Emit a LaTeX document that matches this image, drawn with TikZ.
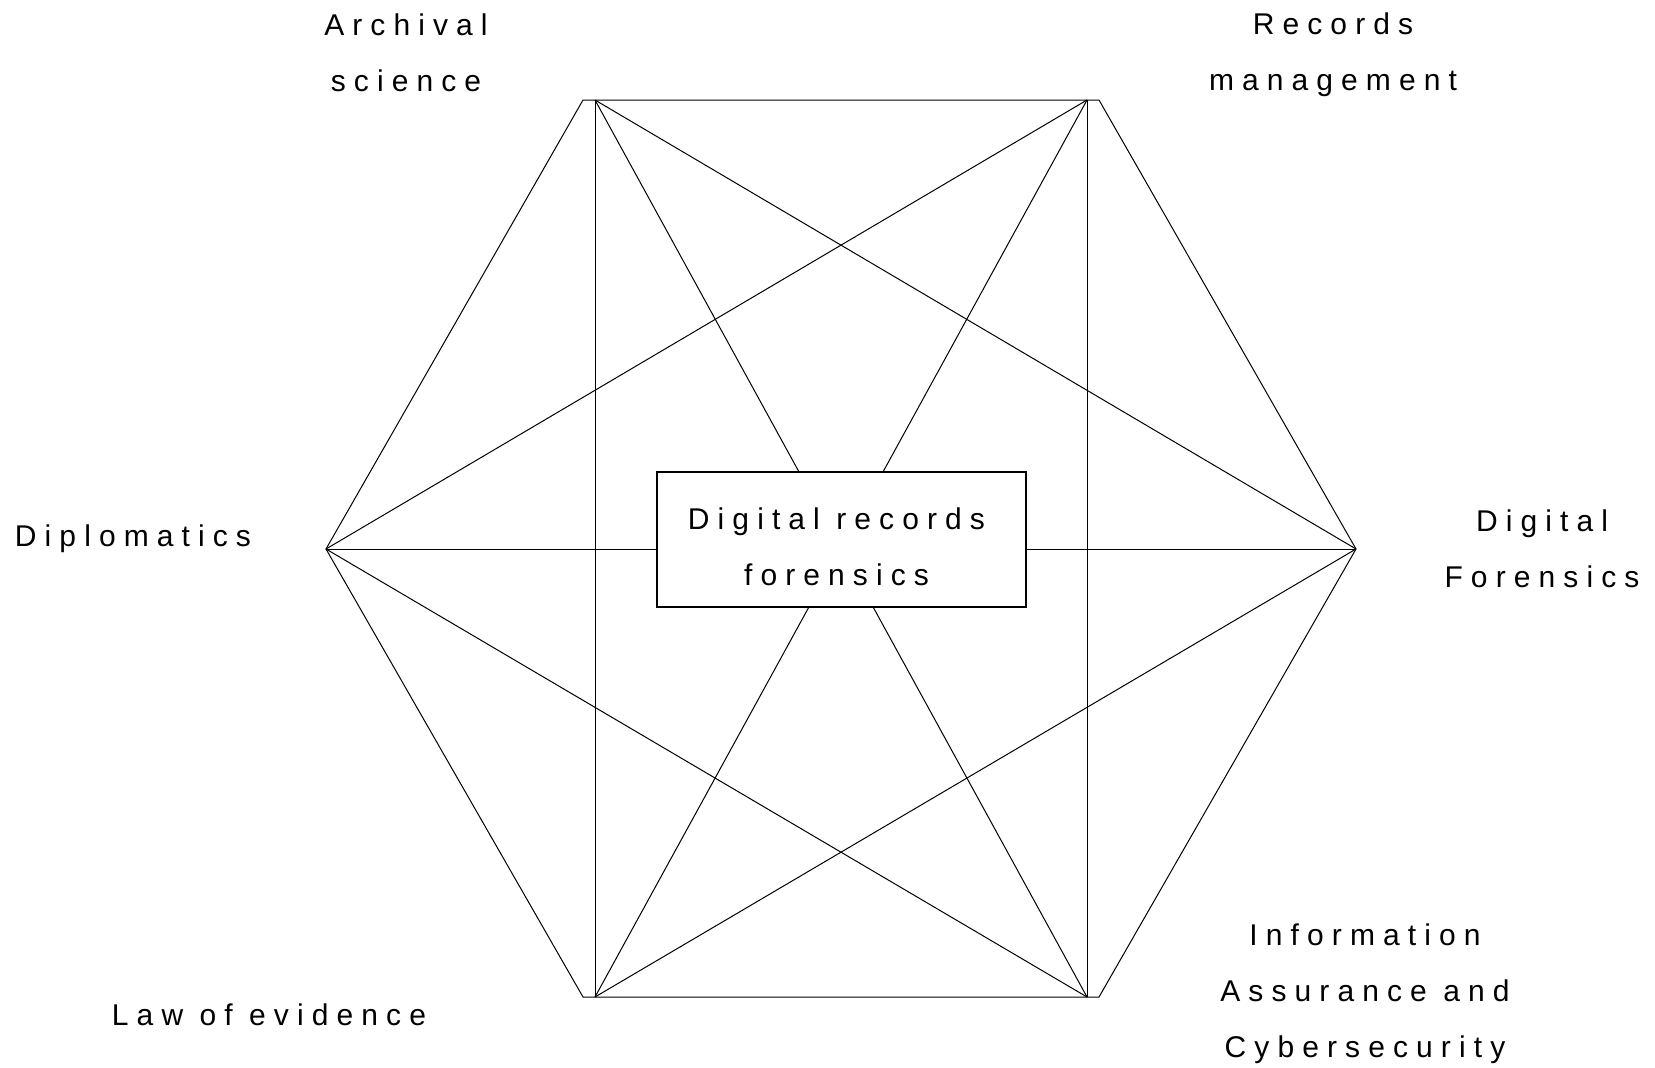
\documentclass[tikz,border=0pt]{standalone}
\usepackage{fontspec}
\setmainfont[LetterSpace=27]{Liberation Sans}
\begin{document}
\begin{tikzpicture}[x=1pt,y=-1pt,
  edge/.style={line width=1pt, black},
  lbl/.style={font=\fontsize{30}{56}\selectfont, align=center, anchor=base, inner sep=0pt},
  centrebox/.style={draw, line width=2pt, fill=white, minimum width=369pt, minimum height=135pt, inner sep=0pt, font=\fontsize{30}{56}\selectfont, align=center}]
\useasboundingbox (0,0) rectangle (1655,1068);
% vertices
\coordinate (L) at (326,549);
\coordinate (R) at (1356,549);
\coordinate (TLo) at (583,100);
\coordinate (TRo) at (1099,100);
\coordinate (BLo) at (583,997);
\coordinate (BRo) at (1099,997);
\coordinate (TL) at (595,100);
\coordinate (TR) at (1087,100);
\coordinate (BL) at (595,997);
\coordinate (BR) at (1087,997);
% hexagon
\draw[edge] (L) -- (TLo) -- (TRo) -- (R) -- (BRo) -- (BLo) -- cycle;
% diagonals
\draw[edge] (TL) -- (BL);
\draw[edge] (TR) -- (BR);
\draw[edge] (L) -- (TR);
\draw[edge] (L) -- (BR);
\draw[edge] (R) -- (TL);
\draw[edge] (R) -- (BL);
\draw[edge] (L) -- (R);
\draw[edge] (TL) -- (BR);
\draw[edge] (TR) -- (BL);
% centre box
\node[centrebox] (drf) at (841.5,539.5) {\rule{0pt}{37pt}Digital records\kern10pt\\forensics\kern10pt};
% labels (anchored at the baseline of the last line)
\node[lbl] (arch) at (406,91) {Archival\\science};
\node[lbl] (rec) at (1333,90) {Records\\management};
\node[lbl] (dipl) at (133,546) {Diplomatics};
\node[lbl] (dfor) at (1542,587) {Digital\\Forensics};
\node[lbl] (info) at (1365,1057) {Information\\Assurance and\\Cybersecurity};
\node[lbl] (law) at (269,1025) {Law of evidence};
\end{tikzpicture}
\end{document}
